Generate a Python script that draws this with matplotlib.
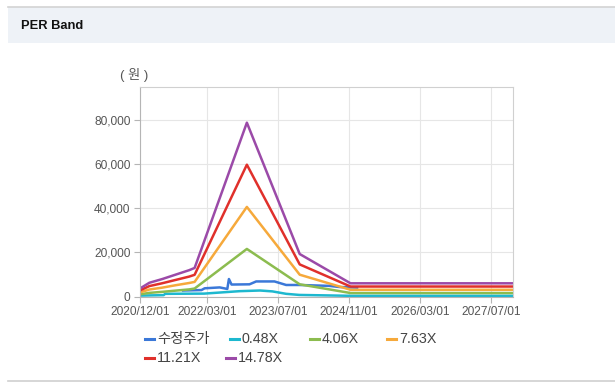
from datetime import datetime

import matplotlib
matplotlib.use('Agg')
from matplotlib import pyplot as plt
from matplotlib import dates as mdates
from matplotlib.lines import Line2D
from matplotlib.patches import Rectangle
from matplotlib.ticker import FuncFormatter

plt.rcParams['font.family'] = ['Liberation Sans', 'Noto Sans CJK KR', 'DejaVu Sans']


def d(s):
    return datetime.strptime(s, '%Y/%m/%d')


# PER band knots (yearly EPS changes), flat after the last estimate
band_dates = ['2020/12/01', '2021/02/01', '2021/05/01', '2021/08/01', '2021/11/01',
              '2021/12/08', '2022/12/01', '2023/11/28', '2024/11/10', '2027/11/26']
per_478 = [3800, 6300, 8000, 10000, 12000, 13000, 78700, 19300, 6060, 6060]
per_1121 = [2900, 4800, 6100, 7600, 9100, 9900, 59700, 14600, 4600, 4600]
per_763 = [2000, 3250, 4100, 5200, 6200, 6700, 40600, 9950, 3130, 3130]
per_406 = [1100, 1730, 2200, 2750, 3300, 3700, 21600, 5600, 1660, 1660]

cyan_dates = ['2020/12/01', '2021/05/10', '2021/05/20', '2022/02/12', '2022/10/12',
              '2023/03/01', '2023/05/25', '2023/08/27', '2023/11/25', '2024/11/10', '2027/11/26']
per_048 = [500, 700, 1300, 1400, 2500, 2800, 2400, 1300, 800, 400, 400]

price_dates = ['2021/09/20', '2022/01/24', '2022/02/15', '2022/05/29', '2022/06/20',
               '2022/07/20', '2022/07/31', '2022/08/18', '2022/12/19', '2023/02/03',
               '2023/06/08', '2023/08/27', '2023/11/25', '2024/06/17', '2024/08/24',
               '2024/12/25']
price = [2800, 3000, 3800, 4200, 3900, 3500, 8000, 5500, 5600, 6900,
         6900, 5300, 5300, 4900, 4400, 4100]

labels = ['수정주가', '0.48X', '4.06X', '7.63X', '11.21X', '14.78X']
colors = ['#3b78d8', '#1db8cf', '#8cbc4f', '#f6a93b', '#e0302b', '#9b4aa8']

xticks = ['2020/12/01', '2022/03/01', '2023/07/01', '2024/11/01', '2026/03/01', '2027/07/01']
yticks = [0, 20000, 40000, 60000, 80000]

fig = plt.figure(figsize=(6.15, 3.9), dpi=100)
W, H = 615.0, 390.0

# header strip
fig.patches.append(Rectangle((8 / W, 1 - 43 / H), 1, 35.5 / H, transform=fig.transFigure,
                             facecolor='#eef2f7', edgecolor='none', zorder=0))
fig.add_artist(Line2D([8 / W, 1], [1 - 7.3 / H] * 2, color='#d3d3d3', lw=1.2))
fig.add_artist(Line2D([8 / W, 1], [1 - 381 / H] * 2, color='#cfcfcf', lw=1.2))
fig.text(21 / W, 1 - 26 / H, 'PER Band', fontsize=9.3, fontweight='bold',
         va='center', ha='left', color='#111111')

ax = fig.add_axes([140.3 / W, 1 - 296.7 / H, (512.7 - 140.3) / W, (296.7 - 87.3) / H])

series = [
    (price_dates, price),
    (cyan_dates, per_048),
    (band_dates, per_406),
    (band_dates, per_763),
    (band_dates, per_1121),
    (band_dates, per_478),
]
for (xs, ys), lab, c in zip(series, labels, colors):
    ax.plot([d(s) for s in xs], ys, color=c, lw=1.8, label=lab)

ax.set_xlim(d('2020/12/01'), d('2027/11/26'))
ax.set_ylim(0, 94700)
ax.set_xticks([d(s) for s in xticks])
ax.xaxis.set_major_formatter(mdates.DateFormatter('%Y/%m/%d'))
ax.set_yticks(yticks)
ax.yaxis.set_major_formatter(FuncFormatter(lambda v, p: f'{int(v):,}'))
ax.grid(True, color='#e6e6e6', lw=0.8)
ax.set_axisbelow(True)
for side in ['top', 'right']:
    ax.spines[side].set_color('#d0d0d0')
for side in ['left', 'bottom']:
    ax.spines[side].set_color('#b5b5b5')
ax.tick_params(axis='both', colors='#b5b5b5', labelcolor='#555555', labelsize=8.6,
               length=4, width=0.8, pad=3)

fig.text(120 / W, 1 - 75 / H, '( 원 )', fontsize=9.5, color='#555555', va='center', ha='left')

# legend, laid out like the source page
leg_pos = [(145, 339), (230, 339), (310, 339), (387, 339), (145, 357.5), (226, 357.5)]
for (x, y), lab, c in zip(leg_pos, labels, colors):
    fig.add_artist(Line2D([x / W, (x + 9) / W], [1 - y / H] * 2, color=c, lw=2.2))
    fig.text((x + 12) / W, 1 - y / H, lab, fontsize=10.3, color='#444444', va='center', ha='left')

fig.savefig('out.png', dpi=100)
